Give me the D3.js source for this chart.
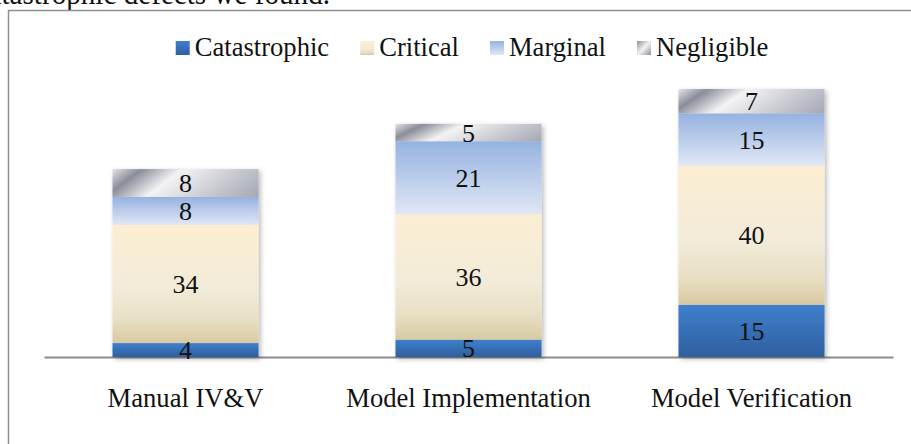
<!DOCTYPE html>
<html>
<head>
<meta charset="utf-8">
<script src="https://cdn.jsdelivr.net/npm/d3@7/dist/d3.min.js"></script>
<style>
  html, body { margin: 0; padding: 0; background: #fff; }
  svg { display: block; }
  text { font-family: "Liberation Serif", "Times New Roman", serif; fill: #111; }
</style>
</head>
<body>
<svg id="chart" width="911" height="444"></svg>
<script>
// ---- data ----
const categories = ["Manual IV&V", "Model Implementation", "Model Verification"];
const seriesNames = ["Catastrophic", "Critical", "Marginal", "Negligible"];
const catastrophic = [4, 5, 15];
const critical = [34, 36, 40];
const marginal = [8, 21, 15];
const negligible = [8, 5, 7];
const seriesValues = [catastrophic, critical, marginal, negligible];
const precedingText = "catastrophic defects we found.";

// ---- setup ----
const W = 911, H = 444;
const svg = d3.select("#chart");
const defs = svg.append("defs");
const fontSize = 28;
const squeeze = 0.95;
function condense(sel, k) {
  k = k || squeeze;
  sel.each(function () {
    const len = this.getComputedTextLength();
    d3.select(this).attr("textLength", len * k).attr("lengthAdjust", "spacingAndGlyphs");
  });
}

// gradients
function vGrad(id, stops) {
  const g = defs.append("linearGradient").attr("id", id)
    .attr("x1", 0).attr("y1", 0).attr("x2", 0).attr("y2", 1);
  stops.forEach(s => g.append("stop").attr("offset", s[0]).attr("stop-color", s[1]));
}
vGrad("gCat", [[0, "#3f7fcd"], [1, "#2f5f9f"]]);
vGrad("gCrit", [[0, "#fdeed2"], [0.55, "#f1ebd8"], [0.8, "#e8dfc4"], [1, "#d8c9a2"]]);
vGrad("gMarg", [[0, "#95b2e0"], [1, "#e0e7f5"]]);
const neg = defs.append("linearGradient").attr("id", "gNeg")
  .attr("x1", 0).attr("y1", 0).attr("x2", 1).attr("y2", 1)
  .attr("gradientTransform", "scale(1,4)");
[[0, "#e4e4e6"], [0.1, "#8a8d99"], [0.24, "#f3f3f4"], [0.45, "#c6c8cf"], [0.7, "#959aa6"], [0.86, "#e6e6e8"], [1, "#888c98"]]
  .forEach(s => neg.append("stop").attr("offset", s[0]).attr("stop-color", s[1]));
const negL = defs.append("linearGradient").attr("id", "gNegL")
  .attr("x1", 0).attr("y1", 0).attr("x2", 1).attr("y2", 1);
[[0, "#8c909b"], [0.5, "#f2f2f3"], [1, "#8c909b"]]
  .forEach(s => negL.append("stop").attr("offset", s[0]).attr("stop-color", s[1]));
const fills = ["url(#gCat)", "url(#gCrit)", "url(#gMarg)", "url(#gNeg)"];
const legendFills = ["url(#gCat)", "url(#gCrit)", "url(#gMarg)", "url(#gNegL)"];

const shadow = defs.append("filter").attr("id", "shadow")
  .attr("x", "-10%").attr("y", "-10%").attr("width", "130%").attr("height", "130%");
shadow.append("feDropShadow").attr("dx", 2).attr("dy", 2).attr("stdDeviation", 2.5)
  .attr("flood-color", "#000").attr("flood-opacity", 0.28);

// preceding document text (clipped at top, as in the page the chart sits in)
svg.append("text").attr("x", 330).attr("y", 4).attr("text-anchor", "end")
  .style("font-size", "31px").text(precedingText).call(condense, 0.94);

// chart frame
svg.append("path").attr("d", `M8.5,${H + 5} V10.5 H${W + 5}`)
  .attr("fill", "none").attr("stroke", "#8e8e8e").attr("stroke-width", 1.5);

// scales
const x = d3.scaleBand().domain(categories).range([44, 893])
  .paddingInner(0.484).paddingOuter(0.242);
const y = d3.scaleLinear().domain([0, 80]).range([357, 357 - 80 * 3.48]);

// stacked data
const table = categories.map((c, i) => {
  const o = { category: c };
  seriesNames.forEach((s, j) => o[s] = seriesValues[j][i]);
  return o;
});
const stacked = d3.stack().keys(seriesNames)(table);

// axis line
const xAxis = d3.axisBottom(x).tickSize(0).tickPadding(30);
const axisG = svg.append("g").attr("transform", `translate(0,${y(0)})`).call(xAxis);
axisG.select(".domain").attr("stroke", "#8c8c8c").attr("stroke-width", 2);
axisG.selectAll(".tick text").style("font-size", fontSize + "px")
  .style("font-family", '"Liberation Serif", "Times New Roman", serif').attr("fill", "#111")
  .call(condense);

// bars
const barsG = svg.append("g").attr("filter", "url(#shadow)");
stacked.forEach((layer, j) => {
  barsG.selectAll(null).data(layer).enter().append("rect")
    .attr("x", d => x(d.data.category))
    .attr("y", d => y(d[1]))
    .attr("width", x.bandwidth())
    .attr("height", d => y(d[0]) - y(d[1]))
    .attr("fill", fills[j]);
});
// labels
stacked.forEach((layer, j) => {
  svg.selectAll(null).data(layer).enter().append("text")
    .attr("x", d => x(d.data.category) + x.bandwidth() / 2)
    .attr("y", d => (y(d[0]) + y(d[1])) / 2 + 9)
    .attr("text-anchor", "middle")
    .style("font-size", "26px")
    .text(d => d[1] - d[0]);
});

// legend
const legend = svg.append("g");
let cx = 0;
const gap = 31;
seriesNames.forEach((s, j) => {
  const g = legend.append("g");
  g.append("rect").attr("x", 0).attr("y", 41).attr("width", 14).attr("height", 14)
    .attr("fill", legendFills[j]);
  const t = g.append("text").attr("x", 19).attr("y", 56).style("font-size", fontSize + "px").text(s);
  const w = 19 + t.node().getComputedTextLength() * squeeze;
  t.call(condense);
  g.attr("transform", `translate(${cx},0)`);
  cx += w + gap;
});
const legendW = cx - gap;
legend.attr("transform", `translate(${472 - legendW / 2},0)`);
</script>
</body>
</html>
